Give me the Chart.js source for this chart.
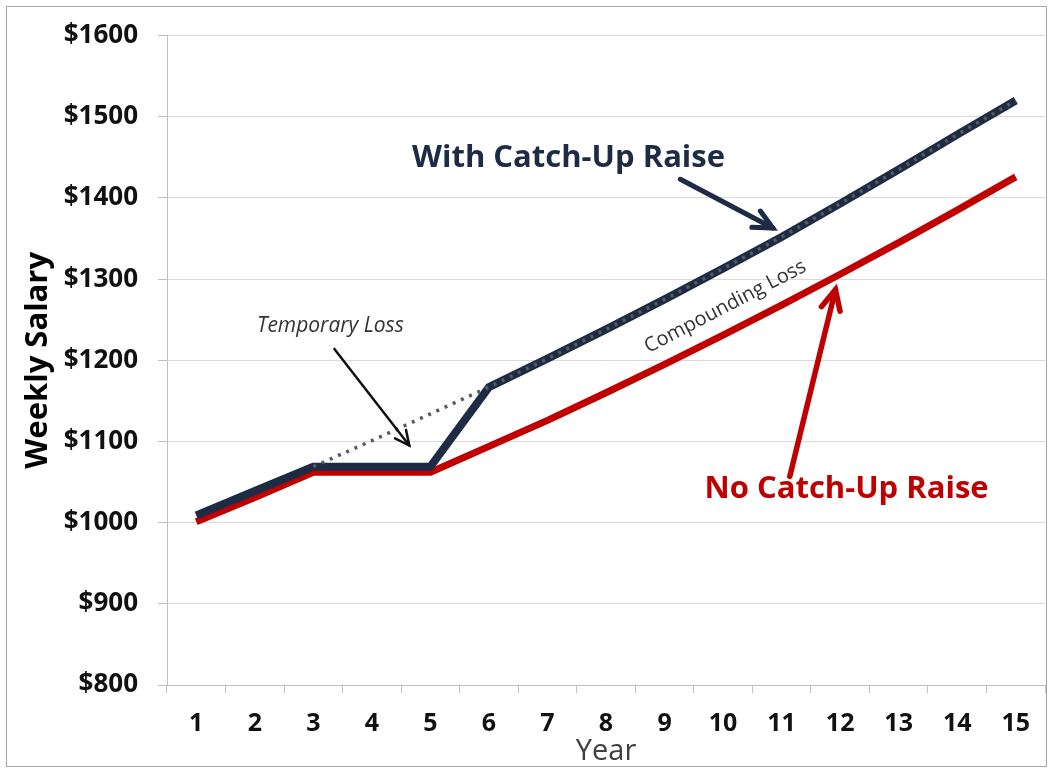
<!DOCTYPE html>
<html lang="en">
<head>
    <meta charset="UTF-8">
    <title>Weekly Salary: Catch-Up Raise</title>
    <script src="https://cdn.jsdelivr.net/npm/chart.js"></script>
    <style>
        body { margin: 0; background: #fff; }
        canvas { display: block; }
    </style>
</head>
<body>
    <canvas id="myChart" width="1049" height="771"></canvas>

    <script>
        // values
        const years = ['1', '2', '3', '4', '5', '6', '7', '8', '9', '10', '11', '12', '13', '14', '15'];
        const withCatchUp = [1009, 1039, 1069, 1069, 1069, 1167, 1202, 1238, 1275, 1313, 1352, 1393, 1435, 1478, 1520];
        const noCatchUp = [1001, 1031, 1062, 1062, 1062, 1094, 1126, 1160, 1195, 1231, 1268, 1306, 1345, 1385, 1426];
        const uninterrupted = [null, null, 1069, 1101, 1134, 1167, 1202, 1238, 1275, 1313, 1352, 1393, 1435, 1478, 1520];
        const yTicks = [800, 900, 1000, 1100, 1200, 1300, 1400, 1500, 1600];

        const FONT = "'Open Sans', 'DejaVu Sans', sans-serif";
        const NAVY = '#1d2b45';
        const RED = '#c00000';

        // notes and arrows, placed in data units (x = year index from 0)
        const notes = [
            { text: 'With Catch-Up Raise', x: 6.36, y: 1449, color: NAVY, font: 'bold 31px ' + FONT },
            { text: 'No Catch-Up Raise', x: 11.11, y: 1041, color: RED, font: 'bold 31px ' + FONT },
            { text: 'Temporary Loss', x: 2.29, y: 1242, color: '#333', font: 'italic 21px ' + FONT },
            { text: 'Compounding Loss', x: 9.04, y: 1266, color: '#333', font: '20px ' + FONT, angle: -27.5 }
        ];
        const arrows = [
            { from: [8.27, 1423], to: [9.85, 1363], color: NAVY, width: 5, head: 21 },
            { from: [10.14, 1057], to: [10.92, 1287], color: RED, width: 5.5, head: 22 },
            { from: [2.36, 1214], to: [3.64, 1095], color: '#111', width: 2.5, head: 16 }
        ];

        const annotate = {
            id: 'annotate',
            afterDatasetsDraw(chart) {
                const ctx = chart.ctx, xs = chart.scales.x, ys = chart.scales.y;
                ctx.save();
                arrows.forEach(a => {
                    const x1 = xs.getPixelForValue(a.from[0]), y1 = ys.getPixelForValue(a.from[1]);
                    const x2 = xs.getPixelForValue(a.to[0]), y2 = ys.getPixelForValue(a.to[1]);
                    const ang = Math.atan2(y2 - y1, x2 - x1);
                    ctx.strokeStyle = a.color;
                    ctx.lineWidth = a.width;
                    ctx.lineCap = 'round';
                    ctx.beginPath();
                    ctx.moveTo(x1, y1);
                    ctx.lineTo(x2, y2);
                    ctx.stroke();
                    ctx.beginPath();
                    ctx.moveTo(x2 - a.head * Math.cos(ang - 0.45), y2 - a.head * Math.sin(ang - 0.45));
                    ctx.lineTo(x2, y2);
                    ctx.lineTo(x2 - a.head * Math.cos(ang + 0.45), y2 - a.head * Math.sin(ang + 0.45));
                    ctx.stroke();
                });
                notes.forEach(n => {
                    ctx.save();
                    ctx.translate(xs.getPixelForValue(n.x), ys.getPixelForValue(n.y));
                    if (n.angle) ctx.rotate(n.angle * Math.PI / 180);
                    ctx.font = n.font;
                    ctx.fillStyle = n.color;
                    ctx.textAlign = 'center';
                    ctx.textBaseline = 'middle';
                    ctx.fillText(n.text, 0, 0);
                    ctx.restore();
                });
                ctx.restore();
            },
            afterDraw(chart) {
                const ctx = chart.ctx;
                ctx.save();
                ctx.strokeStyle = '#a6a6a6';
                ctx.lineWidth = 1;
                ctx.strokeRect(6.5, 6.5, chart.width - 9, chart.height - 11);
                ctx.restore();
            }
        };

        const ctx = document.getElementById('myChart').getContext('2d');

        new Chart(ctx, {
            type: 'line',
            data: {
                labels: years,
                datasets: [
                    {
                        label: 'Uninterrupted',
                        data: uninterrupted,
                        borderColor: '#5a5a5a',
                        borderWidth: 3.5,
                        borderDash: [3, 6],
                        pointRadius: 0,
                        tension: 0,
                        order: 0
                    },
                    {
                        label: 'With Catch-Up Raise',
                        data: withCatchUp,
                        borderColor: NAVY,
                        borderWidth: 8,
                        borderJoinStyle: 'round',
                        pointRadius: 0,
                        tension: 0,
                        order: 1
                    },
                    {
                        label: 'No Catch-Up Raise',
                        data: noCatchUp,
                        borderColor: RED,
                        borderWidth: 7,
                        borderJoinStyle: 'round',
                        pointRadius: 0,
                        tension: 0,
                        order: 2
                    }
                ]
            },
            options: {
                responsive: false,
                animation: false,
                devicePixelRatio: 1,
                layout: { padding: { left: 14, right: 4, top: 34, bottom: 0 } },
                scales: {
                    x: {
                        offset: true,
                        grid: { offset: true, drawOnChartArea: false, tickLength: 8, color: '#bfbfbf' },
                        border: { color: '#bfbfbf' },
                        ticks: { font: { family: FONT, size: 25, weight: 'bold' }, color: '#111', padding: 16, maxRotation: 0 },
                        title: { display: true, text: 'Year', font: { family: FONT, size: 29 }, color: '#404040', padding: { top: 0, bottom: 2 } },
                        afterFit: s => { s.height = 86; }
                    },
                    y: {
                        min: 800,
                        max: 1600,
                        afterBuildTicks: s => { s.ticks = yTicks.map(v => ({ value: v })); },
                        grid: { color: '#d9d9d9', tickColor: '#bfbfbf', tickLength: 9 },
                        border: { color: '#bfbfbf' },
                        ticks: {
                            font: { family: FONT, size: 26, weight: 'bold' },
                            color: '#111',
                            padding: 20,
                            callback: v => '$' + v
                        },
                        title: { display: true, text: 'Weekly Salary', font: { family: FONT, size: 31, weight: 'bold' }, color: '#000', padding: { top: 6, bottom: 0 } },
                        afterFit: s => { s.width = 153; }
                    }
                },
                plugins: {
                    legend: { display: false },
                    tooltip: { enabled: false }
                }
            },
            plugins: [annotate]
        });
    </script>
</body>
</html>
